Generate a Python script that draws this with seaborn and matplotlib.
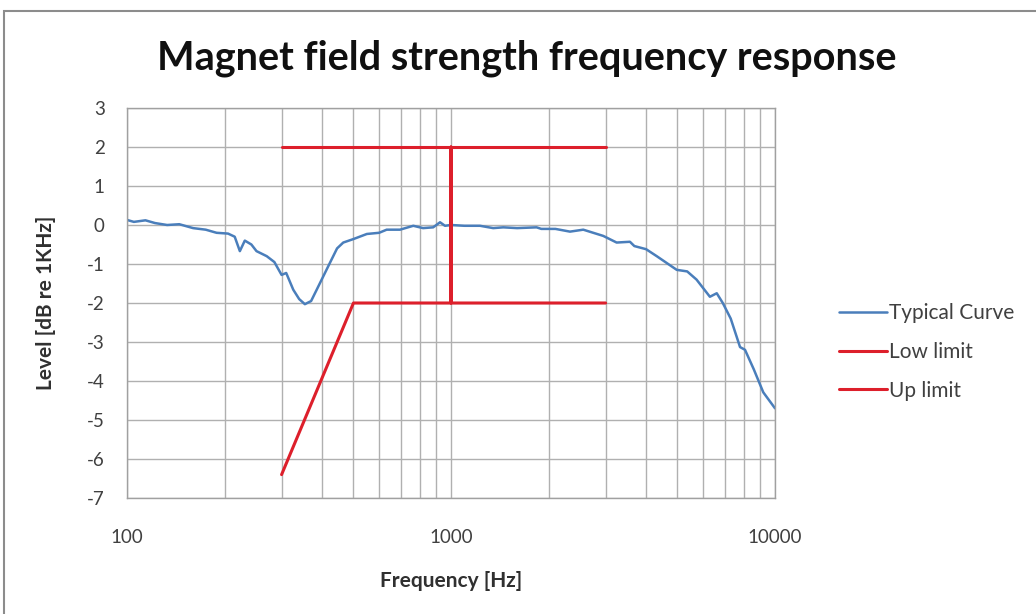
import numpy as np
import pandas as pd
import matplotlib.pyplot as plt
from matplotlib.patches import Rectangle
from matplotlib.ticker import FixedLocator, NullFormatter
import seaborn as sns

# typical curve
freq = [100, 105, 114, 122, 133, 145, 160, 175, 189, 205, 215, 223, 231, 242, 251,
        270, 285, 300, 310, 326, 340, 354, 370, 385, 423, 445, 465, 500, 550, 600,
        633, 696, 765, 820, 881, 925, 958, 1000, 1100, 1229, 1350, 1450, 1600, 1837,
        1900, 2100, 2329, 2560, 2951, 3245, 3567, 3680, 4000, 4316, 4974, 5357, 5726,
        6296, 6610, 6900, 7300, 7800, 8080, 8600, 9200, 10000]
level = [0.13, 0.08, 0.12, 0.05, 0.0, 0.02, -0.08, -0.12, -0.2, -0.22, -0.3, -0.67, -0.4,
         -0.5, -0.67, -0.8, -0.95, -1.28, -1.23, -1.66, -1.9, -2.03, -1.95, -1.66, -0.97,
         -0.6, -0.45, -0.36, -0.23, -0.2, -0.12, -0.12, -0.02, -0.08, -0.06, 0.07, -0.02,
         0.0, -0.02, -0.02, -0.08, -0.06, -0.08, -0.06, -0.1, -0.1, -0.17, -0.12, -0.28,
         -0.45, -0.43, -0.54, -0.62, -0.8, -1.15, -1.19, -1.4, -1.84, -1.75, -2.0, -2.4,
         -3.13, -3.2, -3.7, -4.29, -4.7]

# limit lines
low_freq = [300, 500, 1000, 1000, 1000, 3000]
low_level = [-6.4, -2, -2, 2, -2, -2]
up_freq = [300, 3000]
up_level = [2, 2]

x_ticks = [100, 1000, 10000]
y_ticks = [-7, -6, -5, -4, -3, -2, -1, 0, 1, 2, 3]

sns.set_style("white")
plt.rcParams['font.family'] = ['Lato', 'DejaVu Sans']
plt.rcParams['axes.unicode_minus'] = False

fig = plt.figure(figsize=(10.36, 6.14), dpi=100)
ax = fig.add_axes([127 / 1036, 1 - 498 / 614, 648 / 1036, 390 / 614])

blue = "#4a7ebb"
red = "#dd1f2b"

curve = pd.DataFrame({"f": freq, "lv": level})
low = pd.DataFrame({"f": low_freq, "lv": low_level})
up = pd.DataFrame({"f": up_freq, "lv": up_level})

sns.lineplot(data=curve, x="f", y="lv", ax=ax, color=blue, linewidth=1.8, sort=False,
             estimator=None, label="Typical Curve")
sns.lineplot(data=low, x="f", y="lv", ax=ax, color=red, linewidth=2.2, sort=False,
             estimator=None, label="Low limit")
sns.lineplot(data=up, x="f", y="lv", ax=ax, color=red, linewidth=2.2, sort=False,
             estimator=None, label="Up limit")

ax.set_xscale("log")
ax.set_xlim(100, 10000)
ax.set_ylim(-7, 3)
ax.xaxis.set_major_locator(FixedLocator(x_ticks))
ax.set_xticklabels([str(t) for t in x_ticks])
minors = [m * d for d in [100, 1000] for m in range(2, 10)]
ax.xaxis.set_minor_locator(FixedLocator(minors))
ax.xaxis.set_minor_formatter(NullFormatter())
ax.set_yticks(y_ticks)
ax.grid(True, which="both", axis="x", color="#b0b0b0", linewidth=1.0)
ax.grid(True, which="major", axis="y", color="#b0b0b0", linewidth=1.0)
ax.set_axisbelow(True)
for s in ax.spines.values():
    s.set_color("#a0a0a0")
    s.set_linewidth(1.0)
ax.tick_params(axis="both", which="both", length=0, labelsize=13.5, colors="#404040")
ax.tick_params(axis="x", pad=22)
ax.tick_params(axis="y", pad=16)

ax.set_xlabel("Frequency [Hz]", fontsize=15, fontweight="bold", color="#303030", labelpad=18)
ax.set_ylabel("Level [dB re 1KHz]", fontsize=15, fontweight="bold", color="#303030", labelpad=22)

fig.text(527 / 1036, 1 - 58 / 614, "Magnet field strength frequency response",
         ha="center", va="center", fontsize=28.5, fontweight="bold", color="#101010")

ax.legend(loc="center left", bbox_to_anchor=(820 / 1036, 1 - 352 / 614), bbox_transform=fig.transFigure,
          frameon=False, fontsize=15, handlelength=2.3, handletextpad=0.1, labelspacing=0.9,
          labelcolor="#404040")

fig.patches.append(Rectangle((4 / 1036, -0.02), 1.1, 1 - 11 / 614 + 0.02, transform=fig.transFigure,
                             fill=False, edgecolor="#8c8c8c", linewidth=1.5))

fig.savefig("out.png", dpi=100)
